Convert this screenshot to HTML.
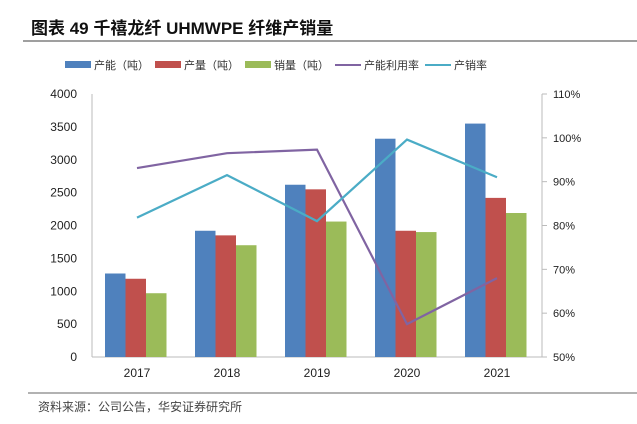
<!DOCTYPE html>
<html><head><meta charset="utf-8"><style>
body{margin:0;background:#fff;width:637px;height:419px;overflow:hidden;font-family:"Liberation Sans","Noto Sans CJK SC",sans-serif}
</style></head><body>
<svg width="637" height="419" xmlns="http://www.w3.org/2000/svg">
<text x="31" y="34" font-size="17" font-weight="bold" fill="#111" font-family="Liberation Sans,Noto Sans CJK SC,sans-serif">图表 49 千禧龙纤 UHMWPE 纤维产销量</text>
<line x1="23" y1="41" x2="637" y2="41" stroke="#666" stroke-width="1.3"/>
<g id="legend" font-size="11" fill="#333"></g>
<g id="axes" font-size="12" fill="#222"></g>
<g id="bars"></g>
<g id="lines"></g>
<line x1="28" y1="393" x2="637" y2="393" stroke="#666" stroke-width="1"/>
<text x="38" y="411" font-size="12" fill="#444" font-family="Liberation Sans,Noto Sans CJK SC,sans-serif">资料来源：公司公告，华安证券研究所</text>
</svg>
<script>
const categories=["2017","2018","2019","2020","2021"];
const capacity=[1270,1920,2620,3320,3550];
const output=[1190,1850,2550,1920,2420];
const sales=[970,1700,2060,1900,2190];
const utilization=[93.1,96.5,97.3,57.5,68];
const salesRate=[81.8,91.5,81,99.6,91];
const leftTicks=[0,500,1000,1500,2000,2500,3000,3500,4000];
const rightTicks=[50,60,70,80,90,100,110];

const NS="http://www.w3.org/2000/svg";
const X0=92,X1=542,Y0=357,Y1=94;
const cw=(X1-X0)/categories.length;
const yL=v=>Y0-(v/4000)*(Y0-Y1);
const yR=v=>Y0-((v-50)/60)*(Y0-Y1);
const xC=i=>X0+cw*(i+0.5);
function mk(tag,attrs,parent){const e=document.createElementNS(NS,tag);for(const k in attrs)e.setAttribute(k,attrs[k]);parent.appendChild(e);return e;}
const axes=document.getElementById('axes'),bars=document.getElementById('bars'),lines=document.getElementById('lines'),legend=document.getElementById('legend');

let e=mk('line',{x1:X0,y1:Y1,x2:X0,y2:Y0,stroke:'#bbb'},axes);


e=mk('line',{x1:X0,y1:Y0,x2:X1,y2:Y0,stroke:'#bbb'},axes);


e=mk('line',{x1:X1,y1:Y1,x2:X1,y2:Y0,stroke:'#bbb'},axes);


leftTicks.forEach(t=>{
 const tx=mk('text',{x:77,y:yL(t)+4,'text-anchor':'end'},axes);tx.textContent=t;
 
 
});
rightTicks.forEach(t=>{
 mk('line',{x1:X1,y1:yR(t),x2:X1+5,y2:yR(t),stroke:'#bbb'},axes);
 const tx=mk('text',{x:553,y:yR(t)+4,'font-size':11},axes);tx.textContent=t+'%';
 
 
});
categories.forEach((c,i)=>{
 const tx=mk('text',{x:xC(i),y:377,'text-anchor':'middle'},axes);tx.textContent=c;
 
 
});
const series=[[capacity,'#4f81bd','capacity'],[output,'#c0504d','output'],[sales,'#9bbb59','sales']];
const bw=20.5;
series.forEach(([arr,col,nm],s)=>{
 arr.forEach((v,i)=>{
  const x=X0+cw*i+13+s*bw;
  const r=mk('rect',{x:x,y:yL(v),width:bw,height:Y0-yL(v),fill:col},bars);
  
  
 });
});
[[utilization,'#8064a2','utilization-line'],[salesRate,'#4bacc6','sales-rate-line']].forEach(([arr,col,nm])=>{
 const p=mk('polyline',{points:arr.map((v,i)=>xC(i)+','+yR(v)).join(' '),fill:'none',stroke:col,'stroke-width':2.2},lines);
 
 
});
const leg=[['rect','#4f81bd','产能（吨）',65],['rect','#c0504d','产量（吨）',155],['rect','#9bbb59','销量（吨）',245],['line','#8064a2','产能利用率',335],['line','#4bacc6','产销率',425]];
leg.forEach(([t,col,lab,x])=>{
 if(t==='rect')mk('rect',{x:x,y:61,width:26,height:7,fill:col},legend);
 else mk('line',{x1:x,y1:65,x2:x+26,y2:65,stroke:col,'stroke-width':2},legend);
 const tx=mk('text',{x:x+29,y:69},legend);tx.textContent=lab;
 
 
});
</script>
</body></html>
